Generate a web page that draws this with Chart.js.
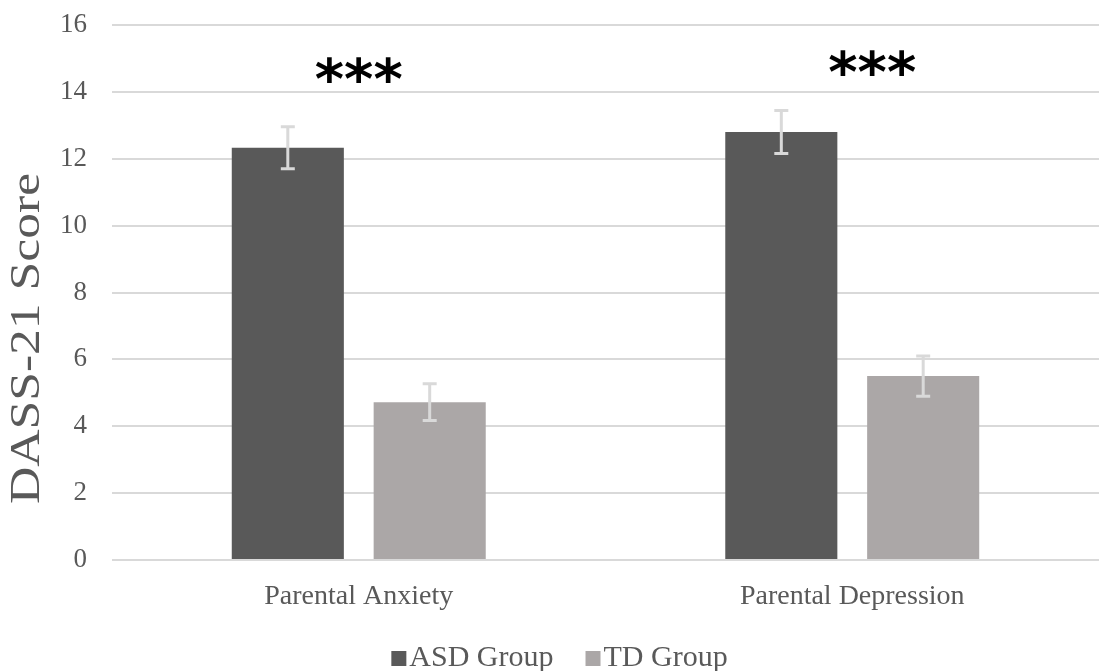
<!DOCTYPE html>
<html>
<head>
<meta charset="utf-8">
<script src="https://cdn.jsdelivr.net/npm/chart.js@4"></script>
<style>
  html, body { margin: 0; padding: 0; background: #fff; }
  #wrap { width: 1099px; height: 671px; }
</style>
</head>
<body>
<div id="wrap"><canvas id="dass-chart"></canvas></div>
<script>
const categories = ['Parental Anxiety', 'Parental Depression'];
const asdValues = [12.33, 12.8];
const tdValues = [4.72, 5.5];
const asdErrors = [0.63, 0.64];
const tdErrors = [0.55, 0.6];
const significance = ['***', '***'];
const starLevel = [14.5, 14.7];
const yTitle = 'DASS-21 Score';

const serif = '"Liberation Serif", "Times New Roman", serif';

// error bars, significance stars, the (stretched) y title and the legend
const errorBarPlugin = {
    id: 'errorBars',
    afterDatasetsDraw(chart) {
        const ctx = chart.ctx;
        const y = chart.scales.y;
        const errs = [asdErrors, tdErrors];
        ctx.save();
        ctx.strokeStyle = '#d9d9d9';
        ctx.lineWidth = 3;
        chart.data.datasets.forEach((ds, i) => {
            chart.getDatasetMeta(i).data.forEach((bar, j) => {
                const top = y.getPixelForValue(ds.data[j] + errs[i][j]);
                const bot = y.getPixelForValue(ds.data[j] - errs[i][j]);
                ctx.beginPath();
                ctx.moveTo(bar.x, top); ctx.lineTo(bar.x, bot);
                ctx.moveTo(bar.x - 7, top); ctx.lineTo(bar.x + 7, top);
                ctx.moveTo(bar.x - 7, bot); ctx.lineTo(bar.x + 7, bot);
                ctx.stroke();
            });
        });
        ctx.fillStyle = '#000';
        ctx.font = 'bold 56px "DejaVu Sans", sans-serif';
        ctx.textAlign = 'center';
        ctx.textBaseline = 'middle';
        significance.forEach((s, j) => {
            const x = chart.scales.x.getPixelForValue(j) + (j === 1 ? 20 : 0);
            ctx.fillText(s, x, y.getPixelForValue(starLevel[j]) + 8);
        });

        // legend
        ctx.font = '30px ' + serif;
        ctx.textAlign = 'left';
        ctx.textBaseline = 'alphabetic';
        const items = chart.data.datasets.map(ds => ({
            label: ds.label, color: ds.backgroundColor, w: 18 + ctx.measureText(ds.label).width
        }));
        const gap = 32;
        const total = items.reduce((s, it) => s + it.w, 0) + gap * (items.length - 1);
        let lx = chart.width / 2 + 10 - total / 2;
        const base = 666;
        items.forEach(it => {
            ctx.fillStyle = it.color;
            ctx.fillRect(lx, base - 15, 15, 15);
            ctx.fillStyle = '#595959';
            ctx.fillText(it.label, lx + 18, base);
            lx += it.w + gap;
        });

        ctx.translate(28, chart.height / 2 + 3);
        ctx.rotate(-Math.PI / 2);
        ctx.scale(1.2, 1);
        ctx.textAlign = 'center';
        ctx.textBaseline = 'middle';
        ctx.fillStyle = '#595959';
        ctx.font = '43px ' + serif;
        ctx.fillText(yTitle, 0, 0);
        ctx.restore();
    }
};

const pad = { top: 25, right: 0, bottom: 59, left: 60 };

const ctx = document.getElementById('dass-chart').getContext('2d');
const chart = new Chart(ctx, {
    type: 'bar',
    data: {
        labels: categories,
        datasets: [{
            label: 'ASD Group',
            data: asdValues,
            backgroundColor: '#595959',
            borderColor: '#595959',
            borderWidth: 0
        }, {
            label: 'TD Group',
            data: tdValues,
            backgroundColor: '#aba7a7',
            borderColor: '#aba7a7',
            borderWidth: 0
        }]
    },
    options: {
        responsive: true,
        maintainAspectRatio: false,
        animation: false,
        layout: { autoPadding: false, padding: pad },
        datasets: { bar: { categoryPercentage: 0.575, barPercentage: 0.79 } },
        plugins: {
            tooltip: { enabled: false },
            legend: { display: false }
        },
        scales: {
            x: {
                grid: { display: false },
                border: { display: false },
                ticks: { color: '#595959', font: { family: serif, size: 28 }, padding: 12 }
            },
            y: {
                min: 0,
                max: 16,
                ticks: { stepSize: 2, color: '#595959', font: { family: serif, size: 27 }, padding: 0 },
                grid: { color: '#d9d9d9', lineWidth: 2, drawTicks: true, tickLength: 25, tickColor: 'rgba(0,0,0,0)' },
                border: { display: false }
            }
        }
    },
    plugins: [errorBarPlugin]
});

// nudge the padding so the plot area sits where the original's does
const a = chart.chartArea;
pad.left += 112 - a.left;
pad.top += 25 - a.top;
pad.bottom += a.bottom - 560;
chart.update();
</script>
</body>
</html>
